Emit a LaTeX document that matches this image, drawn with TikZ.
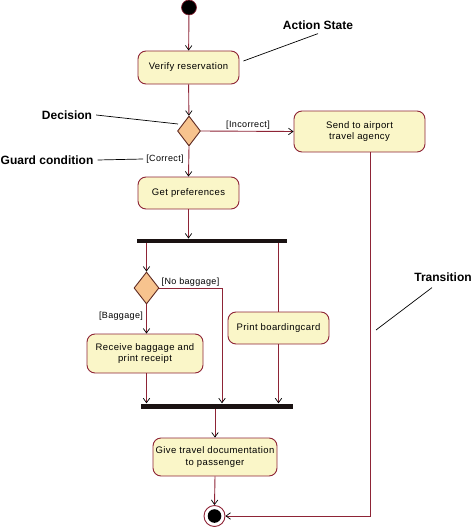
\documentclass[tikz,border=0pt]{standalone}
\usepackage{fontspec}
\setmainfont{Liberation Sans}
\newfontfamily\spfont[LetterSpace=4]{Liberation Sans}
\usetikzlibrary{shapes.geometric,arrows.meta}
\definecolor{edgec}{HTML}{8E2436}
\definecolor{decedge}{HTML}{5E2A22}
\definecolor{actfill}{HTML}{FAF6C8}
\definecolor{decfill}{HTML}{F7C38E}
\definecolor{barc}{HTML}{1A1212}
\begin{document}
\begin{tikzpicture}[x=1pt,y=-1pt,
  act/.style={draw=edgec, line width=0.9pt, fill=actfill, rounded corners=8pt,
    align=center, inner sep=0pt, font=\spfont\fontsize{9.5}{11.5}\selectfont},
  dec/.style={diamond, draw=decedge, line width=0.9pt, fill=decfill, inner sep=0pt},
  bar/.style={fill=barc, draw=none, inner sep=0pt, rectangle},
  flow/.style={draw=edgec, line width=0.9pt,
    -{Straight Barb[length=4.5pt,width=6.5pt,line width=0.7pt,color=black]}},
  plain/.style={draw=edgec, line width=0.9pt},
  guard/.style={font=\spfont\fontsize{9}{11}\selectfont, inner sep=0pt},
  note/.style={font=\bfseries\fontsize{12}{14}\selectfont, inner sep=0pt},
  leader/.style={draw=black, line width=0.7pt}
]
\useasboundingbox (0,0) rectangle (473,527);

% nodes
\node[circle, fill=black, draw=edgec, line width=0.6pt, minimum size=15pt, inner sep=0pt] (start) at (189,7.5) {};
\node[act, minimum width=101pt, minimum height=33pt] (verify) at (188.5,67.5) {Verify reservation};
\node[dec, minimum width=23pt, minimum height=30pt] (d1) at (189,131) {};
\node[act, minimum width=131pt, minimum height=41pt] (send) at (359.5,131.5) {Send to airport\\travel agency};
\node[act, minimum width=101pt, minimum height=32pt] (pref) at (188.5,193) {Get preferences};
\node[bar, minimum width=150pt, minimum height=4.5pt] (fork) at (212,241) {};
\node[dec, minimum width=25pt, minimum height=32pt] (d2) at (146.5,288) {};
\node[act, minimum width=116pt, minimum height=39pt] (recv) at (145,353.5) {Receive baggage and\\print receipt};
\node[act, minimum width=101pt, minimum height=32pt] (print) at (278.5,328) {Print boardingcard};
\node[bar, minimum width=152pt, minimum height=5pt] (join) at (217,406) {};
\node[act, minimum width=124pt, minimum height=38pt] (give) at (215,457) {Give travel documentation\\to passenger};
\node[circle, draw=edgec, line width=0.9pt, fill=white, minimum size=21pt, inner sep=0pt,
  path picture={\fill[black] (path picture bounding box.center) circle (6.8pt);}] (end) at (214.5,516) {};

% guard labels
\node[guard] (incorrect) at (248,125.5) {[Incorrect]};
\node[guard] (correct) at (165,159) {[Correct]};
\node[guard] (nobag) at (190.5,282.5) {[No baggage]};
\node[guard] (bag) at (121,316.5) {[Baggage]};

% annotation labels
\node[note] (actlbl) at (318,25) {Action State};
\node[note] (declbl) at (67,115) {Decision};
\node[note] (guardlbl) at (47,160) {Guard condition};
\node[note] (translbl) at (443,277) {Transition};
\coordinate (decpt) at (178,124);
\coordinate (transpt) at (376,330);
\coordinate (nbcorner) at (222,288);

% flows
\draw[flow] (start) -- (verify);
\draw[flow] (verify) -- (d1);
\draw[flow] (d1.east) -- (send.west);
\draw[flow] (d1.south) -- (pref.north);
\draw[flow] (pref.south) -- (pref.south |- fork.north);
\draw[flow] (d2.north |- fork.south) -- (d2.north);
\draw[plain] (print.north |- fork.south) -- (print.north);
\draw[flow] (d2.south) -- (recv.north -| d2.south);
\draw[flow] (d2.east) -- (nbcorner) -- (nbcorner |- join.north);
\draw[flow] (recv.south -| d2.south) -- (d2.south |- join.north);
\draw[flow] (print.south) -- (print.south |- join.north);
\draw[flow] (give.north |- join.south) -- (give.north);
\draw[flow] (give.south) -- (end.north);
\draw[flow] ([xshift=11pt]send.south) |- (end.east);

% leaders
\draw[leader] ([xshift=4pt,yshift=6.5pt]verify.east) -- ([yshift=-4pt]actlbl.south);
\draw[leader] ([xshift=4pt]declbl.east) -- (decpt);
\draw[leader] ([xshift=4pt]guardlbl.east) -- ([xshift=-3pt]correct.west);
\draw[leader] (transpt) -- ([xshift=-11pt,yshift=-6pt]translbl.south);
\end{tikzpicture}
\end{document}
